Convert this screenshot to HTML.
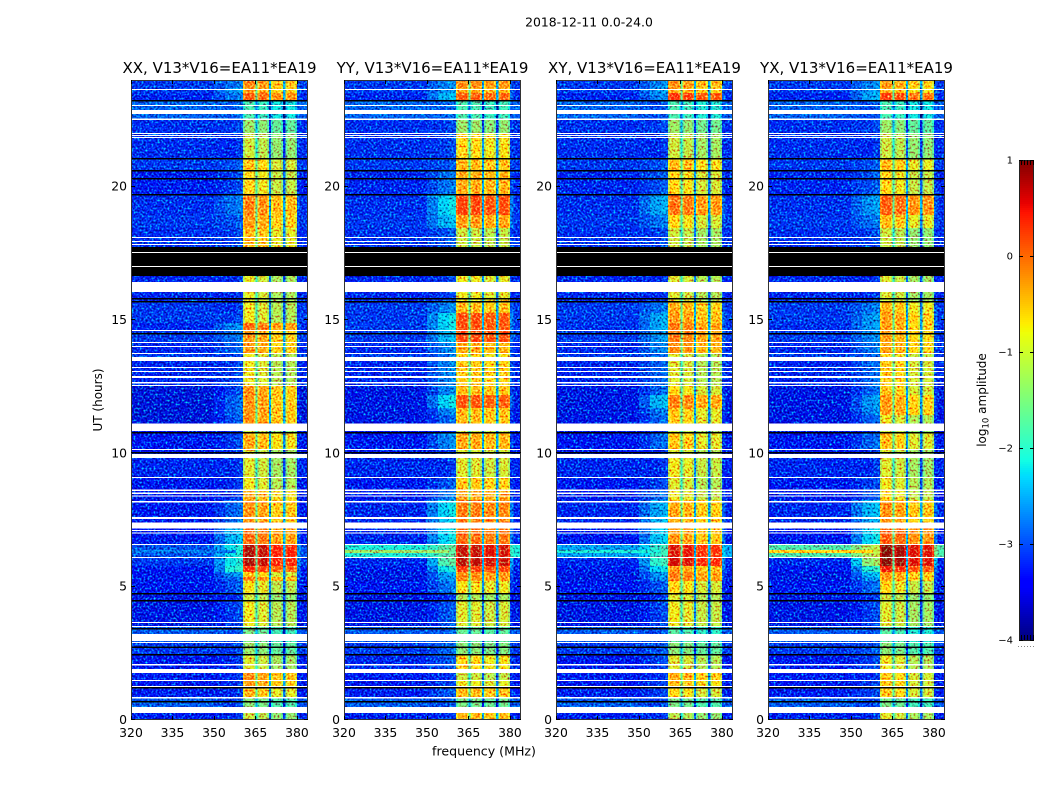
<!DOCTYPE html>
<html>
<head>
<meta charset="utf-8">
<title>V13*V16 dynamic spectra</title>
<style>
html,body{margin:0;padding:0;background:#fff;width:1050px;height:800px;overflow:hidden}
svg{display:block}
text{font-family:"DejaVu Sans","Liberation Sans",sans-serif;fill:#000}
</style>
</head>
<body>
<svg id="figure" xmlns="http://www.w3.org/2000/svg" width="1050" height="800" viewBox="0 0 1050 800">
<defs>
<filter id="speckle" x="0" y="0" width="100%" height="100%" color-interpolation-filters="sRGB">
<feTurbulence type="fractalNoise" baseFrequency="0.5" numOctaves="2" seed="7"/>
<feColorMatrix type="matrix" values="0 0 0 0 0.5  1.4 0 0 0 -0.2  0.8 0 0 0 0.1  0 0 0 0 1"/>
</filter>
</defs>
<text x="589" y="26.5" font-size="12.4" text-anchor="middle">2018-12-11 0.0-24.0</text>
<text x="484" y="755.5" font-size="12.6" text-anchor="middle">frequency (MHz)</text>
<text x="0" y="0" font-size="12" text-anchor="middle" transform="translate(102,400) rotate(-90)">UT (hours)</text>
<text x="0" y="0" font-size="12" text-anchor="middle" transform="translate(986,400) rotate(-90)">log<tspan font-size="8.5" dy="2.5">10</tspan><tspan dy="-2.5"> amplitude</tspan></text>
</svg>
<script>
/* ---------- data ---------- */
const panelTitles = ["XX, V13*V16=EA11*EA19","YY, V13*V16=EA11*EA19","XY, V13*V16=EA11*EA19","YX, V13*V16=EA11*EA19"];
const xTicks = [320,335,350,365,380];
const yTicks = [0,5,10,15,20];
const colorbarTicks = [1,0,-1,-2,-3,-4];

/* time segment edges, hours UT */
const hourEdges = [0,.375,.825,1.275,1.5,1.8,2.475,2.925,3.525,4.5,4.76,5.21,5.36,5.55,5.775,6.075,6.6,7.2,7.61,8.25,8.625,9.11,9.825,10.16,10.8,11.1,11.44,11.7,12.19,12.525,13.46,13.76,14.175,14.625,14.89,15.26,15.71,16.65,17.74,18.45,18.94,19.725,20.625,21.075,22.01,22.5,23.25,23.51,23.7,24];

/* in-band log10 amplitude of the first subband, per time segment */
const levelXX = [-1.0,-1.4,-.5,-.3,-.2,-.9,-1.3,-1.5,-.8,-1.0,
 -.75,-.1,-.6,.4,.8,.8,0,-.25,-.25,-.4,
 -.8,-.9,-.9,-.4,-1.0,-.25,-.25,-.25,-.25,-.8,
 -.8,-.3,-.3,0,-.8,-.8,-.85,-.8,-.5,-.3,
 -.15,-.7,-.6,-1.0,-1.3,-1.8,.1,-.3,-.2];
const levelYY = [-.45,-1.5,-.5,-.8,-1.0,-.7,-1.4,-1.6,-.9,-1.2,
 -.75,-.2,-.2,.3,.75,.7,0,-.1,-.1,-.35,
 -.6,-.9,-.9,-.4,-1.0,-.5,-.5,.15,-.5,-.6,
 -.7,-.4,.25,.2,.2,-.5,-.8,-.8,-1.0,-.3,
 .25,-.4,-.5,-.7,-1.3,-1.8,.1,-.4,-.2];
const levelXY = [-1.1,-1.5,-.7,-.5,-.4,-.9,-1.4,-1.7,-.8,-.9,
 -.7,-.1,-.1,-.3,.65,.6,-.3,-.4,-.4,-.8,
 -.9,-.8,-.9,-.6,-1.0,-.6,-.6,-.15,-.7,-.9,
 -.9,-.2,-.1,-.1,-.3,-.4,-.9,-.9,-1.0,-.7,
 -.05,-.7,-.5,-1.0,-1.3,-1.8,.35,-.4,-.25];
const levelYX = [-.85,-1.5,-.6,-.6,-.6,-.8,-1.4,-1.7,-.9,-1.0,
 -.7,-.3,-.3,.5,.95,.95,.1,-.25,-.25,-.7,
 -.8,-.9,-.9,-.55,-1.0,-.8,-.3,-.3,-.6,-.6,
 -.7,-.35,-.35,-.35,-.3,-.45,-.9,-.9,-1.0,-.5,
 .1,-.7,-.5,-1.0,-1.3,-1.8,.3,-.4,-.3];

/* shoulder just below the band, 354-360 MHz */
const shoulderXX = [-3.3,-3.2,-3.3,-3.3,-3.3,-3.3,-3.2,-3.1,-3.2,-3.3,-3.1,-3.0,-2.7,-2.1,-2.2,-2.2,-2.5,-2.9,-3.0,-3.3,-3.3,-3.3,-3.3,-3.2,-3.3,-3.1,-3.0,-3.0,-3.2,-3.2,-3.2,-3.0,-2.9,-2.8,-3.2,-3.3,-3.3,-3.3,-3.2,-3.1,-2.9,-3.2,-3.1,-3.3,-3.2,-3.0,-2.9,-2.7,-2.9];
const shoulderYY = [-3.3,-3.1,-3.1,-3.2,-3.3,-3.1,-3.0,-3.0,-3.1,-3.3,-2.9,-2.7,-2.6,-2.2,-1.8,-1.8,-2.3,-2.4,-2.3,-2.9,-3.1,-3.3,-3.3,-2.8,-3.3,-3.0,-2.8,-2.3,-2.8,-2.8,-2.9,-2.8,-2.5,-2.3,-2.3,-2.8,-3.2,-3.3,-3.1,-2.5,-2.3,-2.9,-3.1,-3.2,-3.2,-3.0,-2.5,-2.7,-2.8];
const shoulderXY = [-3.3,-3.2,-3.2,-3.2,-3.3,-3.2,-3.1,-3.1,-3.2,-3.3,-3.1,-2.8,-2.7,-2.3,-2.0,-2.0,-2.4,-2.5,-2.6,-3.0,-3.2,-3.3,-3.3,-3.0,-3.3,-3.0,-2.9,-2.5,-3.0,-3.0,-3.0,-2.8,-2.7,-2.6,-2.6,-2.9,-3.3,-3.3,-3.2,-2.9,-2.6,-3.1,-3.1,-3.3,-3.2,-3.1,-2.8,-2.7,-2.8];
const shoulderYX = [-3.3,-3.2,-3.2,-3.2,-3.3,-3.2,-3.1,-3.1,-3.2,-3.3,-3.0,-2.7,-2.5,-2.1,-1.4,-1.2,-2.3,-2.6,-2.5,-3.1,-3.2,-3.3,-3.3,-3.0,-3.3,-3.0,-2.8,-2.7,-3.0,-3.0,-3.0,-2.9,-2.8,-2.7,-2.7,-2.9,-3.3,-3.3,-3.2,-2.9,-2.7,-3.1,-3.1,-3.3,-3.2,-3.1,-2.6,-2.7,-2.8];

/* out-of-band floor, 320-350 MHz */
const floorXX = [-3.35,-3.0,-3.35,-3.4,-3.35,-3.4,-3.2,-3.0,-3.5,-3.5,-3.45,-3.45,-3.45,-3.4,-3.2,-3.05,-3.4,-3.4,-3.4,-3.4,-3.4,-3.3,-3.4,-3.45,-3.4,-3.55,-3.55,-3.55,-3.55,-3.3,-3.2,-3.3,-3.2,-3.3,-3.2,-3.2,-3.3,-3.3,-3.25,-3.2,-3.25,-3.35,-3.2,-3.25,-3.25,-2.95,-3.3,-3.2,-3.2];
const floorYY = [-3.35,-3.0,-3.35,-3.4,-3.35,-3.3,-3.2,-3.0,-3.5,-3.5,-3.45,-3.5,-3.5,-3.45,-3.3,-2.1,-3.3,-3.3,-3.3,-3.4,-3.4,-3.3,-3.4,-3.45,-3.4,-3.5,-3.5,-3.5,-3.5,-3.3,-3.2,-3.3,-3.2,-3.2,-3.2,-3.2,-3.3,-3.3,-3.25,-3.2,-3.25,-3.3,-3.2,-3.25,-3.25,-2.95,-3.3,-3.2,-3.2];
const floorXY = [-3.35,-3.0,-3.35,-3.4,-3.35,-3.4,-3.2,-3.0,-3.5,-3.5,-3.45,-3.5,-3.5,-3.45,-3.3,-2.6,-3.4,-3.3,-3.3,-3.4,-3.4,-3.3,-3.4,-3.45,-3.4,-3.5,-3.5,-3.5,-3.5,-3.3,-3.2,-3.3,-3.2,-3.25,-3.2,-3.2,-3.3,-3.3,-3.25,-3.2,-3.25,-3.3,-3.2,-3.25,-3.25,-2.95,-3.3,-3.2,-3.2];
const floorYX = [-3.35,-3.0,-3.35,-3.4,-3.35,-3.4,-3.2,-3.0,-3.5,-3.5,-3.45,-3.5,-3.5,-3.45,-3.3,-1.8,-3.4,-3.3,-3.3,-3.4,-3.4,-3.3,-3.4,-3.45,-3.4,-3.5,-3.5,-3.5,-3.5,-3.3,-3.2,-3.3,-3.2,-3.25,-3.2,-3.2,-3.3,-3.3,-3.25,-3.2,-3.25,-3.3,-3.2,-3.25,-3.25,-2.95,-3.3,-3.2,-3.2];

/* level of each of the four subbands relative to the first */
const subbandOffsetXX = [0,-.1,-.35,-.35];
const subbandOffsetYY = [0,0,-.1,-.05];
const subbandOffsetXY = [0,-.05,-.25,-.25];
const subbandOffsetYX = [0,-.1,-.35,-.35];

/* subband frequency limits, MHz */
const subbandStart = [360.5,365.8,370.7,375.8];
const subbandEnd = [365.1,369.9,374.9,380];
/* depth of the notches between subbands, dex */
const notchDepth = [-1.1,-1.9,-1.9];
const subbandEdgeDrop = -.3;

/* broadband interference row at about 6.3 h, up to the band edge */
const rfiHours = [6.26,6.375];
const rfiFreq = [320,358];
const rfiLevels = [-2.8,-1.3,-2.1,-.7];

/* flagged rows, hours [start,end] */
const whiteFlags = [[23.62,23.66],[23.02,23.06],[22.72,22.87],[22.5,22.55],[21.975,22.01],[21.9,21.94],[21.825,21.86],[18.075,18.11],[17.925,17.96],[17.81,17.85],[17.51,17.55],[16.99,17.02],[16.05,16.425],[14.59,14.625],[14.14,14.175],[13.99,14.025],[13.725,13.76],[13.46,13.61],[13.2,13.24],[13.05,13.09],[12.825,12.9],[12.62,12.675],[12.525,12.56],[11.05,11.125],[10.84,11.04],[10.125,10.16],[9.825,9.975],[9.075,9.11],[8.58,8.65],[8.475,8.53],[8.38,8.42],[8.16,8.21],[7.54,7.61],[7.19,7.4],[7.09,7.125],[6.99,7.03],[6.56,6.6],[6.075,6.11],[3.64,3.675],[3.49,3.525],[2.96,3.225],[2.89,2.925],[2.04,2.1],[1.77,1.92],[1.46,1.5],[1.24,1.275],[.81,.86],[.26,.49]];
const blackFlags = [[23.19,23.25],[21.02,21.075],[20.57,20.625],[20.27,20.325],[19.67,19.725],[16.65,17.74],[15.77,15.825],[15.655,15.71],[14.455,14.51],[10.74,10.8],[9.99,10.05],[4.705,4.76],[4.44,4.5],[3.39,3.45],[2.7,2.76],[2.42,2.475],[1.18,1.24],[.655,.71]];

const panelLevels = [levelXX,levelYY,levelXY,levelYX];
const panelShoulders = [shoulderXX,shoulderYY,shoulderXY,shoulderYX];
const panelFloors = [floorXX,floorYY,floorXY,floorYX];
const panelOffsets = [subbandOffsetXX,subbandOffsetYY,subbandOffsetXY,subbandOffsetYX];

/* ---------- layout ---------- */
const panelLeft = [131,344,556,768];
const plotTop = 80, plotBottom = 720, plotWidth = 177;
const hourMax = 24, freqMin = 320, freqMax = 384;
const cbar = {left:1019,right:1034,top:160,bottom:640,min:-4,max:1};
const NS = "http://www.w3.org/2000/svg";
const svg = document.getElementById("figure");

function yScale(h){return plotBottom-(h/hourMax)*(plotBottom-plotTop);}
function xScale(i,f){return panelLeft[i]+(f-freqMin)/(freqMax-freqMin)*plotWidth;}
function cbarY(v){return cbar.bottom-(v-cbar.min)/(cbar.max-cbar.min)*(cbar.bottom-cbar.top);}

function clamp01(x){return Math.max(0,Math.min(1,x));}
function jet(v){
  const t=clamp01((v-cbar.min)/(cbar.max-cbar.min));
  const r=t<.35?0:t<.66?(t-.35)/.31:t<.89?1:1-(t-.89)/.11*.5;
  const g=t<.125?0:t<.375?(t-.125)/.25:t<.64?1:t<.91?1-(t-.64)/.27:0;
  const b=t<.11?.5+t/.11*.5:t<.34?1:t<.65?1-(t-.34)/.31:0;
  return "rgb("+Math.round(r*255)+","+Math.round(g*255)+","+Math.round(b*255)+")";
}
function addRect(parent,x,y,w,h,fill){
  const r=document.createElementNS(NS,"rect");
  r.setAttribute("x",x);r.setAttribute("y",y);r.setAttribute("width",w);r.setAttribute("height",h);
  r.setAttribute("fill",fill);
  r.setAttribute("shape-rendering","crispEdges");
  parent.appendChild(r);
  return r;
}
function addLine(parent,x1,y1,x2,y2,color){
  const l=document.createElementNS(NS,"line");
  l.setAttribute("x1",x1);l.setAttribute("y1",y1);l.setAttribute("x2",x2);l.setAttribute("y2",y2);
  l.setAttribute("stroke",color);l.setAttribute("stroke-width","1");
  l.setAttribute("shape-rendering","crispEdges");
  parent.appendChild(l);
  return l;
}
function addText(parent,x,y,str,size,anchor){
  const t=document.createElementNS(NS,"text");
  t.setAttribute("x",x);t.setAttribute("y",y);t.setAttribute("font-size",size);t.setAttribute("text-anchor",anchor);
  t.textContent=str;
  parent.appendChild(t);
  return t;
}

/* spectral columns for a segment: [fromMHz,toMHz,value] */
function columnsFor(p,s){
  const lv=panelLevels[p][s],sh=panelShoulders[p][s],fl=panelFloors[p][s],off=panelOffsets[p];
  const cols=[[320,350,fl],[350,354,(fl+sh)/2],[354,358,sh],[358,subbandStart[0],sh+.12]];
  subbandStart.forEach(function(st,b){
    const en=subbandEnd[b],v=lv+off[b];
    cols.push([st,st+.7,v+subbandEdgeDrop]);
    cols.push([st+.7,en-.7,v]);
    cols.push([en-.7,en,v+subbandEdgeDrop]);
    if(b<subbandStart.length-1){cols.push([en,subbandStart[b+1],Math.min(v,-.6)+notchDepth[b]]);}
  });
  cols.push([subbandEnd[3],381.2,(fl+sh)/2]);
  cols.push([381.2,freqMax,fl]);
  return cols;
}

panelTitles.forEach(function(title,p){
  const g=document.createElementNS(NS,"g");
  
  
  svg.appendChild(g);

  const cells=document.createElementNS(NS,"g");
  
  
  g.appendChild(cells);
  for(let s=0;s<hourEdges.length-1;s++){
    const yTop=yScale(hourEdges[s+1]),yBot=yScale(hourEdges[s]);
    columnsFor(p,s).forEach(function(c){
      const x0=xScale(p,c[0]),x1=xScale(p,c[1]);
      const cell=addRect(cells,x0,yTop,x1-x0,yBot-yTop,jet(c[2]));
      
      
    });
  }
  const rfi=addRect(cells,xScale(p,rfiFreq[0]),yScale(rfiHours[1]),xScale(p,rfiFreq[1])-xScale(p,rfiFreq[0]),yScale(rfiHours[0])-yScale(rfiHours[1]),jet(rfiLevels[p]));
  
  

  const noise=addRect(g,panelLeft[p],plotTop,plotWidth,plotBottom-plotTop,"#808080");
  noise.setAttribute("filter","url(#speckle)");
  noise.setAttribute("style","mix-blend-mode:hard-light");
  
  

  blackFlags.forEach(function(f){
    const r=addRect(g,panelLeft[p],yScale(f[1]),plotWidth,yScale(f[0])-yScale(f[1]),"#000");
    
    
  });
  whiteFlags.forEach(function(f){
    const r=addRect(g,panelLeft[p],yScale(f[1]),plotWidth,yScale(f[0])-yScale(f[1]),"#fff");
    
    
  });

  const frame=document.createElementNS(NS,"rect");
  frame.setAttribute("x",panelLeft[p]+.5);frame.setAttribute("y",plotTop+.5);
  frame.setAttribute("width",plotWidth-1);frame.setAttribute("height",plotBottom-plotTop-1);
  frame.setAttribute("fill","none");frame.setAttribute("stroke","#333");frame.setAttribute("stroke-width","1");
  
  
  g.appendChild(frame);

  xTicks.forEach(function(v){
    const x=Math.round(xScale(p,v))+.5;
    const a=addLine(g,x,plotBottom,x,plotBottom-4,"#000");
    
    
    const b=addLine(g,x,plotTop,x,plotTop+4,"#000");
    
    
    const t=addText(g,xScale(p,v),737,String(v),12.4,"middle");
    
    
  });
  yTicks.forEach(function(v){
    const y=Math.round(yScale(v))-.5;
    const a=addLine(g,panelLeft[p],y,panelLeft[p]+4,y,"#000");
    
    
    const b=addLine(g,panelLeft[p]+plotWidth,y,panelLeft[p]+plotWidth-4,y,"#000");
    
    
    const t=addText(g,panelLeft[p]-4,yScale(v)+4,String(v),12.4,"end");
    
    
  });
  const tt=addText(g,panelLeft[p]+plotWidth/2,73,title,15,"middle");
  
  
});

/* ---------- colorbar ---------- */
const cb=document.createElementNS(NS,"g");


svg.appendChild(cb);
for(let y=cbar.top;y<cbar.bottom;y+=2){
  const v=cbar.max-(y+1-cbar.top)/(cbar.bottom-cbar.top)*(cbar.max-cbar.min);
  const r=addRect(cb,cbar.left,y,cbar.right-cbar.left,2,jet(v));
  
  
}
const cbFrame=document.createElementNS(NS,"rect");
cbFrame.setAttribute("x",cbar.left+.5);cbFrame.setAttribute("y",cbar.top+.5);
cbFrame.setAttribute("width",cbar.right-cbar.left-1);cbFrame.setAttribute("height",cbar.bottom-cbar.top);
cbFrame.setAttribute("fill","none");cbFrame.setAttribute("stroke","#222");


cb.appendChild(cbFrame);
colorbarTicks.forEach(function(v){
  const y=Math.round(cbarY(v))+.5;
  const a=addLine(cb,cbar.left,y,cbar.left+4,y,"#000");
  
  
  const b=addLine(cb,cbar.right,y,cbar.right-4,y,"#000");
  
  
  const t=addText(cb,1013,cbarY(v)+3.5,String(v).replace("-","\u2212"),10,"end");
  
  
});
[1021,1024,1027,1030,1033].forEach(function(x){
  const a=addLine(cb,x+.5,cbar.top,x+.5,cbar.top+5,"#000");
  
  
  const b=addLine(cb,x+.5,cbar.bottom,x+.5,cbar.bottom-5,"#000");
  
  
});
[1018,1021,1024,1027,1030,1033].forEach(function(x){
  const d=addRect(cb,x,646,1,1,"#888");
  
  
});
</script>
</body>
</html>
